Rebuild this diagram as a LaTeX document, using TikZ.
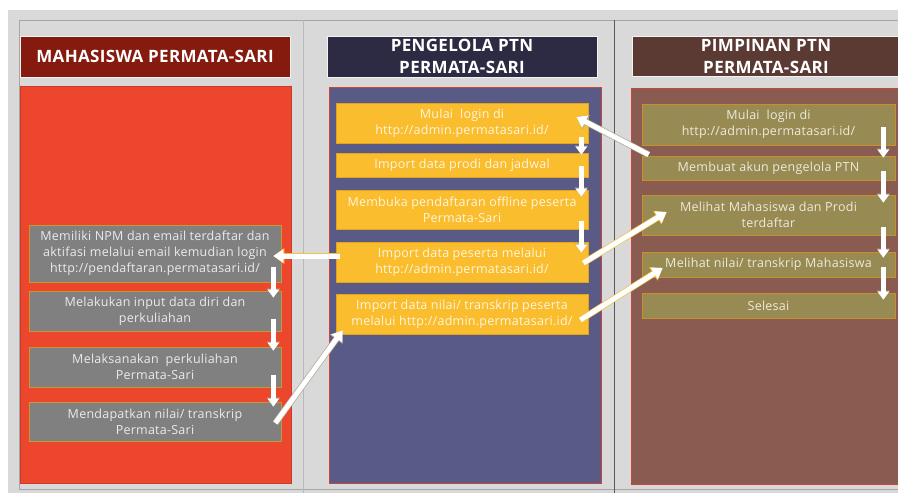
\documentclass[tikz,border=0pt]{standalone}
\usepackage{fontspec}
\setmainfont{Open Sans}
\usetikzlibrary{arrows.meta,calc}
\definecolor{framegray}{HTML}{D9D9D9}
\definecolor{hdrA}{HTML}{851A0E}
\definecolor{bodyA}{HTML}{EC462D}
\definecolor{bordA}{HTML}{C93A28}
\definecolor{hdrB}{HTML}{2C2B43}
\definecolor{bodyB}{HTML}{5A5A87}
\definecolor{hdrC}{HTML}{5B3A33}
\definecolor{bodyC}{HTML}{8A5B51}
\definecolor{bordBC}{HTML}{C8463A}
\definecolor{yel}{HTML}{F9BD2D}
\definecolor{yelb}{HTML}{E2A31E}
\definecolor{gbox}{HTML}{808080}
\definecolor{gboxb}{HTML}{C49A36}
\definecolor{obox}{HTML}{978B53}
\definecolor{oboxb}{HTML}{C8902A}
\definecolor{ytext}{HTML}{FFF5DF}
\definecolor{gtext}{HTML}{EBEBEB}
\definecolor{otext}{HTML}{EEEADA}
\definecolor{glowY}{HTML}{F2C244}
\definecolor{glowG}{HTML}{B0A890}
\tikzset{
  hdr/.style={draw=white!90!gray, line width=0.8pt, fill=#1, text=white,
    font=\fontsize{17}{22}\selectfont\bfseries\addfontfeature{LetterSpace=2}, align=center, inner sep=0pt},
  boxbase/.style={line width=0.7pt, align=center, inner sep=0pt,
    font=\fontsize{12.5}{16}\selectfont\addfontfeature{LetterSpace=2}},
  ybox/.style={boxbase, fill=yel, draw=yelb, text=ytext},
  gbx/.style={boxbase, fill=gbox, draw=gboxb, text=gtext},
  obx/.style={boxbase, fill=obox, draw=oboxb, text=otext},
  darr/.style={white, line width=4.5pt, -{Triangle[width=11pt,length=8pt]},
    preaction={draw=glowG, line width=5.6pt, -{Triangle[width=12.5pt,length=9pt]}}},
  xarr/.style={white, line width=5pt, -{Triangle[width=13pt,length=10pt]},
    preaction={draw=#1, line width=6.4pt, -{Triangle[width=15pt,length=11pt]}}},
}
\begin{document}
\begin{tikzpicture}[x=1pt,y=-1pt]
\useasboundingbox (0,0) rectangle (898,493);
% frame
\fill[framegray] (8,10) rectangle (900,495);
\draw[gray!70, line width=0.8pt] (19,489) -- (19,20) -- (900,20);
\draw[gray!70, line width=0.8pt] (19,489) -- (900,489);
\draw[gray!55, line width=0.8pt] (303,20) -- (303,495);
\draw[black!65, line width=0.8pt] (614,20) -- (614,495);
% bodies
\fill[bodyA, draw=bordA, line width=0.8pt] (20,86) rectangle (291,483);
\fill[bodyB, draw=bordBC, line width=0.8pt] (329,87) rectangle (601,483);
\fill[bodyC, draw=bordBC, line width=0.8pt] (631,88) rectangle (903,484);
% headers
\node[hdr=hdrA, minimum width=270, minimum height=41] (hA) at (155,56.5) {MAHASISWA PERMATA-SARI};
\node[hdr=hdrB, minimum width=270, minimum height=41] (hB) at (462,56.5) {PENGELOLA PTN\\PERMATA-SARI};
\node[hdr=hdrC, minimum width=268, minimum height=40] (hC) at (766,56) {PIMPINAN PTN\\PERMATA-SARI};
% column 1
\node[gbx, minimum width=252, minimum height=57] (s1) at (155,253.5) {Memiliki NPM dan email terdaftar dan\\aktifasi melalui email kemudian login\\http://pendaftaran.permatasari.id/};
\node[gbx, minimum width=252, minimum height=40] (s2) at (155,311) {Melakukan input data diri dan\\perkuliahan};
\node[gbx, minimum width=252, minimum height=40] (s3) at (155,367) {Melaksanakan\ \ perkuliahan\\Permata-Sari};
\node[gbx, minimum width=252, minimum height=39] (s4) at (155,421.5) {Mendapatkan nilai/ transkrip\\Permata-Sari};
% column 2
\node[ybox, minimum width=252, minimum height=40] (m1) at (462,123) {Mulai\ \ login di\\http://admin.permatasari.id/};
\node[ybox, minimum width=252, minimum height=24] (m2) at (462,165) {Import data prodi dan jadwal};
\node[ybox, minimum width=252, minimum height=39] (m3) at (462,209.5) {Membuka pendaftaran offline peserta\\Permata-Sari};
\node[ybox, minimum width=252, minimum height=40] (m4) at (462,262) {Import data peserta melalui\\http://admin.permatasari.id/};
\node[ybox, minimum width=252, minimum height=40] (m5) at (462,314) {Import data nilai/ transkrip peserta\\melalui http://admin.permatasari.id/};
% column 3
\node[obx, minimum width=253, minimum height=41] (p1) at (768.5,124.5) {Mulai\ \ login di\\http://admin.permatasari.id/};
\node[obx, minimum width=253, minimum height=24] (p2) at (768.5,168) {Membuat akun pengelola PTN};
\node[obx, minimum width=253, minimum height=40] (p3) at (768.5,215) {Melihat Mahasiswa dan Prodi\\terdaftar};
\node[obx, minimum width=253, minimum height=25] (p4) at (768.5,264.5) {Melihat nilai/ transkrip Mahasiswa};
\node[obx, minimum width=253, minimum height=25] (p5) at (768.5,305.5) {Selesai};
% down arrows column 2
\draw[darr] ([xshift=-7pt,yshift=6pt]m1.south east) -- ([xshift=-7pt,yshift=-2pt]m2.north east);
\draw[darr] ([xshift=-7pt,yshift=11pt]m2.south east) -- ([xshift=-7pt,yshift=-7pt]m3.north east);
\draw[darr] ([xshift=-7pt,yshift=8pt]m3.south east) -- ([xshift=-7pt,yshift=-11pt]m4.north east);
% down arrows column 3
\draw[darr] ([xshift=-12pt,yshift=18pt]p1.south east) -- ([xshift=-12pt,yshift=-2pt]p2.north east);
\draw[darr] ([xshift=-12pt,yshift=9pt]p2.south east) -- ([xshift=-12pt,yshift=-8pt]p3.north east);
\draw[darr] ([xshift=-12pt,yshift=8pt]p3.south east) -- ([xshift=-12pt,yshift=-6pt]p4.north east);
\draw[darr] ([xshift=-12pt,yshift=10pt]p4.south east) -- ([xshift=-12pt,yshift=-7pt]p5.north east);
% down arrows column 1
\draw[darr] ([xshift=-8pt,yshift=15pt]s1.south east) -- ([xshift=-8pt,yshift=-7pt]s2.north east);
\draw[darr] ([xshift=-8pt,yshift=12pt]s2.south east) -- ([xshift=-8pt,yshift=-4pt]s3.north east);
\draw[darr] ([xshift=-8pt,yshift=12pt]s3.south east) -- ([xshift=-8pt,yshift=-5pt]s4.north east);
% cross arrows
\draw[xarr=glowG] ([xshift=7pt,yshift=1pt]p2.north west) -- ([xshift=-12pt,yshift=6pt]m1.east);
\draw[xarr=glowY] ([xshift=4pt,yshift=6pt]m4.west) -- ([xshift=-8pt,yshift=-2.5pt]s1.east);
\draw[xarr=glowG] ([xshift=-6pt,yshift=-1.5pt]s4.east) -- ([xshift=7pt,yshift=4pt]m5.south west);
\draw[xarr=glowY] ([xshift=-5pt,yshift=-1pt]m4.east) -- ([xshift=25pt,yshift=3pt]p3.west);
\draw[xarr=glowY] ([xshift=-8pt,yshift=-6pt]m5.east) -- ([xshift=21pt,yshift=-3.5pt]p4.west);
\end{tikzpicture}
\end{document}
